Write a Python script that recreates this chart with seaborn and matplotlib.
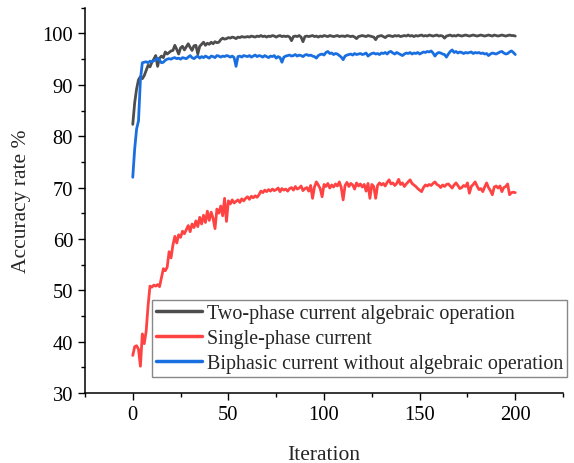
import numpy as np
import pandas as pd
import matplotlib
matplotlib.use("Agg")
import matplotlib.pyplot as plt
from matplotlib.ticker import MultipleLocator
import seaborn as sns

iterations = list(range(0, 201))

two_phase_algebraic = [
    82.3, 86.5, 89.2, 91.0, 91.6, 91.2, 91.8, 92.8, 93.8, 93.5,
    94.4, 95.0, 95.7, 93.6, 95.2, 95.6, 95.3, 96.4, 96.0, 96.3,
    96.6, 96.7, 97.7, 96.9, 96.0, 97.2, 97.5, 96.8, 97.4, 98.0,
    97.3, 96.7, 97.6, 97.7, 96.0, 97.5, 97.9, 98.3, 97.7, 98.1,
    97.9, 98.3, 98.0, 98.4, 98.2, 98.3, 98.8, 99.1, 98.9, 99.0,
    99.2, 99.1, 99.3, 99.2, 99.0, 99.3, 99.2, 99.4, 99.3, 99.3,
    99.4, 99.3, 99.5, 99.4, 99.3, 99.5, 99.4, 99.6, 99.4, 99.5,
    99.3, 99.5, 99.4, 99.6, 99.5, 99.3, 99.5, 99.6, 99.4, 99.5,
    99.4, 99.5, 99.3, 98.6, 99.4, 99.5, 99.4, 99.6, 99.3, 98.4,
    99.4, 99.5, 99.4, 99.5, 99.6, 99.4, 99.5, 99.3, 99.5, 99.4,
    99.6, 99.5, 99.4, 99.6, 99.5, 99.4, 99.5, 99.6, 99.4, 99.5,
    99.5, 99.4, 99.6, 99.5, 99.4, 99.5, 99.3, 99.0, 99.4, 99.5,
    99.6, 99.5, 99.4, 99.6, 99.5, 99.4, 99.3, 98.8, 99.4, 99.5,
    99.6, 99.4, 99.2, 99.5, 99.6, 99.5, 99.4, 99.6, 99.5, 99.6,
    99.4, 99.5, 99.6, 99.5, 99.7, 99.5, 99.6, 99.4, 99.6, 99.5,
    99.6, 99.7, 99.5, 99.6, 99.5, 99.7, 99.6, 99.5, 99.6, 99.7,
    99.5, 99.6, 99.5, 99.1, 99.5, 99.6, 99.7, 99.5, 99.6, 99.5,
    99.7, 99.6, 99.5, 99.6, 99.7, 99.6, 99.5, 99.6, 99.7, 99.6,
    99.5, 99.6, 99.7, 99.6, 99.5, 99.6, 99.7, 99.6, 99.5, 99.7,
    99.6, 99.5, 99.6, 99.7, 99.6, 99.5, 99.6, 99.7, 99.6, 99.6,
    99.5,
]

single_phase = [
    37.3, 39.0, 39.2, 38.5, 35.2, 41.5, 39.6, 42.0, 47.0, 50.8,
    50.6, 51.0, 50.8, 51.1, 50.7, 52.5, 54.2, 53.8, 54.5, 57.5,
    56.3, 58.8, 60.5, 59.2, 60.8, 60.3, 61.5, 61.0, 61.8, 62.6,
    61.4, 62.9, 62.2, 63.5, 62.4, 64.2, 62.9, 64.6, 63.2, 65.4,
    63.6, 65.2, 64.0, 62.0, 65.8, 65.0, 66.4, 64.5, 67.9, 63.4,
    67.4, 66.8, 67.6, 67.0, 67.3, 67.6, 67.1, 67.8, 67.4, 67.9,
    68.2, 67.7, 68.3, 68.0, 68.4, 68.1, 68.6, 69.3, 69.0, 69.5,
    69.2, 69.6, 69.3, 69.7, 69.4, 69.6, 69.9, 69.2, 69.8, 69.5,
    69.7, 69.3, 69.8, 70.0, 69.5, 70.2, 69.7, 69.9, 70.3, 69.4,
    69.8, 70.0, 69.3, 70.4, 67.9, 70.1, 71.1, 70.5, 69.8, 68.2,
    70.6, 70.2, 70.8, 69.9, 70.5, 70.1, 70.7, 70.3, 71.1, 70.0,
    67.6, 70.4, 71.0, 70.2, 70.8, 70.5, 69.7, 70.9, 70.3, 70.7,
    70.1, 70.6, 69.3, 70.8, 67.9, 70.6, 70.2, 67.9, 70.4, 70.9,
    70.5, 70.8, 70.3, 71.0, 71.5, 70.7, 70.9, 70.4, 70.8, 71.6,
    70.6, 70.9, 70.2, 70.7, 71.1, 71.5, 70.8, 70.5, 70.2, 69.8,
    69.5, 69.2, 70.0, 70.5, 70.3, 70.6, 70.4, 70.8, 71.1, 70.6,
    70.4, 70.0, 70.5, 70.2, 70.6, 70.7, 70.3, 69.9, 70.5, 70.9,
    70.4, 69.8, 70.0, 70.4, 70.2, 70.9, 68.9, 70.2, 70.6, 71.1,
    70.3, 69.6, 69.8, 69.2, 70.1, 70.9, 70.0, 69.4, 68.6, 70.1,
    70.3, 69.9, 70.3, 69.2, 70.0, 70.2, 70.7, 68.6, 69.0, 69.1,
    69.0,
]

biphasic_no_algebraic = [
    72.0, 77.5, 81.4, 83.0, 91.0, 94.3, 94.4, 94.5, 94.3, 94.6,
    94.5, 94.7, 94.9, 95.2, 94.8, 94.3, 94.4, 94.8, 95.0, 95.1,
    95.0, 95.2, 95.3, 95.1, 95.2, 95.0, 95.3, 95.2, 95.1, 95.4,
    95.7, 95.3, 95.1, 95.4, 95.6, 95.2, 95.5, 95.3, 95.6, 95.4,
    95.2, 95.6, 95.5, 95.3, 95.7, 95.6, 95.4, 95.6, 95.5, 95.7,
    95.6, 95.4, 95.6, 95.3, 93.6, 95.5, 95.6, 95.4, 95.7, 95.6,
    95.5, 95.7, 95.4, 95.6, 95.8, 95.5, 95.7, 95.6, 95.4, 95.7,
    95.5, 95.3, 95.6, 95.5, 95.7, 95.2, 95.5, 95.3, 94.4, 95.4,
    95.6, 95.7, 95.8, 95.6, 95.7, 95.9, 95.6, 95.8, 95.7, 95.5,
    95.8, 95.9, 95.7, 95.8, 95.6, 95.5, 95.2, 95.7, 95.9, 96.0,
    95.8, 96.3, 96.5, 96.1, 96.2, 95.9, 96.1, 96.0, 95.7, 95.4,
    94.9, 95.6, 95.8, 95.9, 96.0, 95.8, 96.1, 95.9, 96.0, 96.1,
    95.9, 96.0, 96.2, 95.6, 95.9, 96.1, 96.2, 96.0, 96.1, 95.9,
    96.2, 96.1, 96.3, 96.0, 96.4, 96.5, 96.2, 96.0, 96.3, 96.1,
    95.9, 95.7, 96.0, 96.2, 96.1, 96.3, 96.0, 96.2, 96.1, 96.3,
    96.0, 96.2, 96.4, 96.3, 96.5, 96.4, 96.6, 96.2, 95.6, 96.1,
    96.3, 96.2, 96.0, 95.9, 95.4, 96.0, 96.5, 96.8, 96.3, 96.5,
    96.2, 96.4, 96.3, 96.1, 96.3, 96.2, 96.3, 96.4, 96.1, 96.3,
    96.2, 96.3, 96.1, 96.2, 96.0, 96.1, 95.7, 96.0, 96.2, 96.1,
    96.0, 96.2, 96.4, 96.5, 96.2, 96.0, 96.1, 96.4, 96.6, 96.3,
    95.9,
]

series_names = [
    "Two-phase current algebraic operation",
    "Single-phase current",
    "Biphasic current without algebraic operation",
]
series_colors = ["#4d4d4d", "#ff4343", "#1a6fe0"]

df = pd.DataFrame({
    "Iteration": iterations * 3,
    "Accuracy": two_phase_algebraic + single_phase + biphasic_no_algebraic,
    "Method": sum([[n] * len(iterations) for n in series_names], []),
})

sns.set_style("ticks")
plt.rcParams["font.family"] = ["Liberation Serif", "DejaVu Serif"]

fig = plt.figure(figsize=(5.74, 4.64), dpi=100)
ax = fig.add_axes([0.148, 0.151, 0.833, 0.830])

sns.lineplot(
    data=df, x="Iteration", y="Accuracy", hue="Method",
    hue_order=series_names, palette=series_colors,
    linewidth=2.0, ax=ax, legend=True,
)

ax.set_xlim(-25, 225)
ax.set_ylim(30, 105)
ax.xaxis.set_major_locator(MultipleLocator(50))
ax.xaxis.set_minor_locator(MultipleLocator(25))
ax.yaxis.set_major_locator(MultipleLocator(10))
ax.yaxis.set_minor_locator(MultipleLocator(5))
ax.tick_params(which="major", direction="out", length=5, width=1.0,
               labelsize=14.8, color="black", labelcolor="black")
ax.tick_params(which="minor", direction="out", length=2.8, width=1.0,
               color="black")
for side in ("top", "right"):
    ax.spines[side].set_visible(False)
for side in ("left", "bottom"):
    ax.spines[side].set_linewidth(1.1)
    ax.spines[side].set_color("black")

ax.set_xlabel("Iteration", fontsize=15.5, labelpad=15)
ax.set_ylabel("Accuracy rate %", fontsize=15.5, labelpad=8)

leg = ax.legend(
    loc="lower right", bbox_to_anchor=(1.009, 0.041), fontsize=14.4,
    frameon=True, fancybox=False, edgecolor="#888888", framealpha=1,
    handlelength=2.3, handletextpad=0.25, labelspacing=0.3,
    borderpad=0.2, borderaxespad=0.0,
)
leg.get_frame().set_linewidth(1.0)
for line in leg.get_lines():
    line.set_linewidth(2.5)

fig.savefig("out.png", dpi=100)
